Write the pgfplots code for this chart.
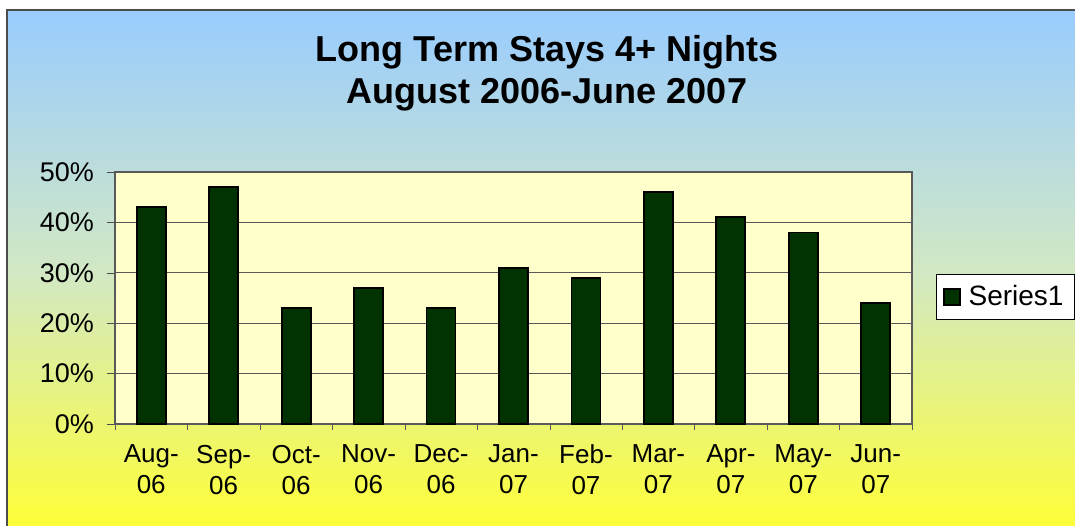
\documentclass[border=0pt]{standalone}
\usepackage{pgfplots}
\pgfplotsset{compat=1.18}
\usepackage{fontspec}
\setmainfont{Liberation Sans}
\definecolor{barfill}{HTML}{003300}
\definecolor{plotbg}{HTML}{FFFFCC}
\definecolor{topblue}{HTML}{99CCFF}
\definecolor{midgreen}{HTML}{D2E8C4}
\definecolor{botyellow}{HTML}{FFFF33}
\begin{document}
\begin{tikzpicture}[x=1pt,y=1pt]
\useasboundingbox (0,0) rectangle (537.5,262.5);
\fill[white] (0,0) rectangle (537.5,262.5);
\shade[top color=topblue, bottom color=botyellow, middle color=midgreen] (3.5,-5) rectangle (545,257.5);
\draw[gray!60!black, line width=0.8pt] (3.5,-5) rectangle (545,257.5);
\node[font=\fontsize{18}{21}\selectfont\bfseries, align=center] at (273.5,226) {Long Term Stays 4+ Nights\\August 2006-June 2007};
\begin{axis}[
  at={(57.5pt,50.5pt)}, anchor=south west,
  scale only axis, width=398.5pt, height=126pt,
  ybar, bar width=0.4,
  xmin=-0.5, xmax=10.5, ymin=0, ymax=50,
  xtick={0,...,10},
  xticklabels={{Aug-\\06},{Sep-\\06},{Oct-\\06},{Nov-\\06},{Dec-\\06},{Jan-\\07},{Feb-\\07},{Mar-\\07},{Apr-\\07},{May-\\07},{Jun-\\07}},
  x tick label style={align=center, font=\fontsize{13}{15.5}\selectfont, yshift=-3pt},
  major x tick style={draw=none},
  minor xtick={-0.5,0.5,...,10.5},
  minor x tick style={gray!70!black},
  xtick pos=bottom, ytick pos=left,
  ytick={0,10,...,50},
  yticklabel={\pgfmathprintnumber{\tick}\%},
  y tick label style={font=\fontsize{13.5}{16}\selectfont, xshift=-3pt},
  /pgf/number format/assume math mode=true,
  tick align=outside,
  major tick length=4pt, minor tick length=3pt,
  ytick style={gray!60!black},
  ymajorgrids, grid style={gray!70!black, line width=0.5pt},
  axis line style={gray!70!black, line width=0.8pt},
  axis background/.style={fill=plotbg},
  legend style={at={(1.0301,0.504)}, anchor=west, draw=black, fill=white, font=\fontsize{14}{16}\selectfont, inner sep=3.5pt, column sep=2pt},
  legend image code/.code={\draw[fill=barfill, draw=black, line width=0.6pt] (0pt,-4pt) rectangle (8pt,4pt);},
]
\addplot[fill=barfill, draw=black, line width=0.9pt] coordinates {
(0,43) (1,47) (2,23) (3,27) (4,23) (5,31) (6,29) (7,46) (8,41) (9,38) (10,24)
};
\addlegendentry{Series1}
\end{axis}
\end{tikzpicture}
\end{document}
